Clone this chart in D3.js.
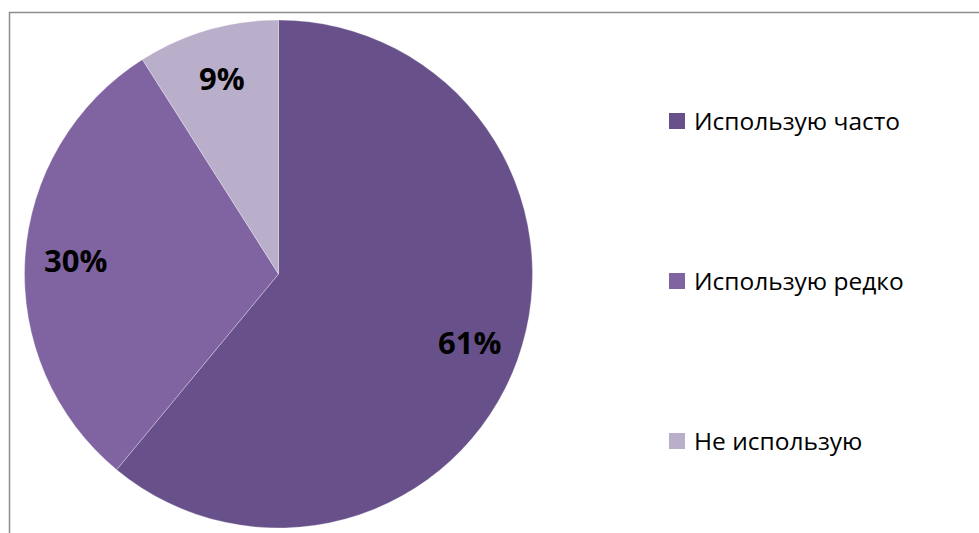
<!DOCTYPE html>
<html>
<head>
<meta charset="utf-8">
<script src="https://cdn.jsdelivr.net/npm/d3@7"></script>
<style>
  body { margin: 0; background: #fff; }
  svg { display: block; }
</style>
</head>
<body>
<div id="chart"></div>
<script>
// data
const categories = ["Использую часто", "Использую редко", "Не использую"];
const values = [61, 30, 9];
const colors = ["#68518a", "#8064a2", "#b9afcb"];

const width = 979;
const height = 533;

const svg = d3
	.select("#chart")
	.append("svg")
	.attr("width", width)
	.attr("height", height);

// chart frame
svg.append("rect")
	.attr("x", 9.5)
	.attr("y", 12.5)
	.attr("width", width + 10)
	.attr("height", height + 10)
	.attr("fill", "none")
	.attr("stroke", "#8c8c8c")
	.attr("stroke-width", 1.5);

const cx = 278.5;
const cy = 274;
const radius = 254;

const color = d3.scaleOrdinal().domain(categories).range(colors);

const pie = d3.pie().sort(null).value((d) => d.value);
const arcs = pie(categories.map((c, i) => ({ name: c, value: values[i] })));

const arc = d3.arc().innerRadius(0).outerRadius(radius);
const labelArc = d3.arc().innerRadius(radius * 0.8).outerRadius(radius * 0.8);

const g = svg.append("g").attr("transform", `translate(${cx}, ${cy})`);

g.selectAll("path")
	.data(arcs)
	.enter()
	.append("path")
	.attr("d", arc)
	.attr("fill", (d) => color(d.data.name))
	.attr("stroke", "#ffffff")
	.attr("stroke-opacity", 0.4)
	.attr("stroke-width", 0.75);

g.selectAll("text")
	.data(arcs)
	.enter()
	.append("text")
	.attr("transform", (d) => `translate(${labelArc.centroid(d)})`)
	.attr("text-anchor", "middle")
	.attr("dy", "0.36em")
	.attr("font-family", "'Open Sans', sans-serif")
	.attr("font-weight", "bold")
	.attr("font-size", 31)
	.attr("fill", "#000")
	.text((d) => d.data.value + "%");

// legend
const legendY = d3.scalePoint().domain(categories).range([121, 441]);

const item = svg
	.append("g")
	.selectAll("g")
	.data(categories)
	.enter()
	.append("g")
	.attr("transform", (d) => `translate(669, ${legendY(d)})`);

item.append("rect")
	.attr("y", -8)
	.attr("width", 16)
	.attr("height", 16)
	.attr("fill", (d) => color(d));

item.append("text")
	.attr("x", 25)
	.attr("dy", "0.36em")
	.attr("font-family", "'Open Sans', sans-serif")
	.attr("font-size", 24.5)
	.attr("fill", "#000")
	.text((d) => d);
</script>
</body>
</html>
